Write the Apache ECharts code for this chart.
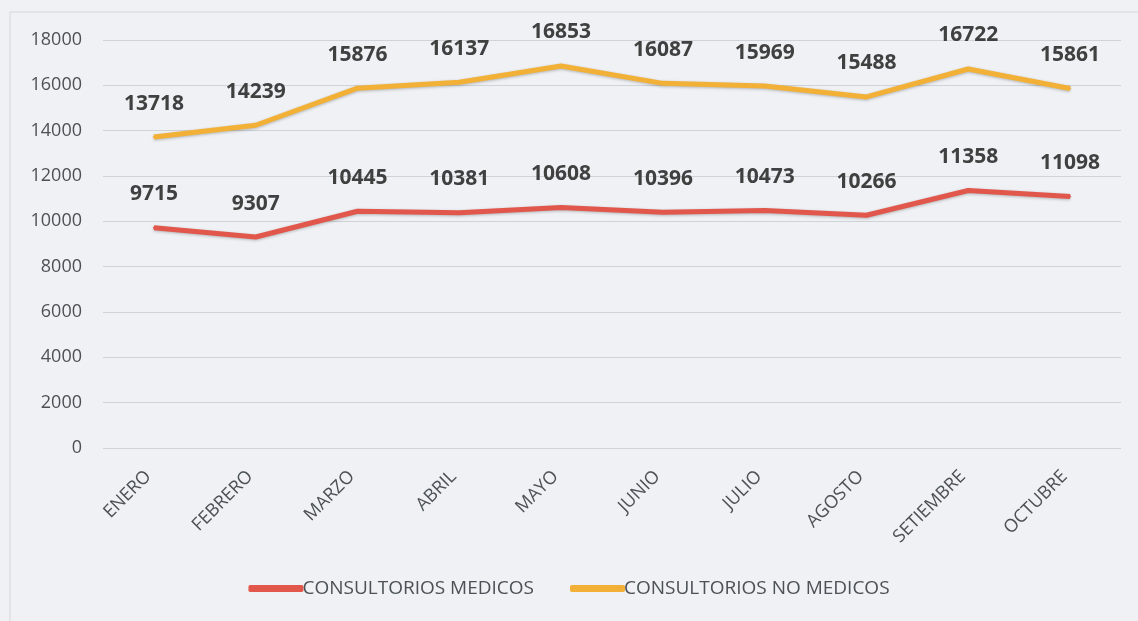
<!DOCTYPE html>
<html><head><meta charset="utf-8">
<script src="https://cdn.jsdelivr.net/npm/echarts@6/dist/echarts.min.js"></script>
<style>html,body{margin:0;padding:0;background:#fff}#c{width:1138px;height:621px}</style>
</head><body><div id="c"></div>
<script>
const categories = ['ENERO','FEBRERO','MARZO','ABRIL','MAYO','JUNIO','JULIO','AGOSTO','SETIEMBRE','OCTUBRE'];
const medicos = [9715, 9307, 10445, 10381, 10608, 10396, 10473, 10266, 11358, 11098];
const noMedicos = [13718, 14239, 15876, 16137, 16853, 16087, 15969, 15488, 16722, 15861];
const seriesNames = ['CONSULTORIOS MEDICOS', 'CONSULTORIOS NO MEDICOS'];
const chart = echarts.init(document.getElementById('c'));
const font = 'Open Sans';
function mk(name, data, color){
  return {
    name, type:'line', data, symbol:'circle', symbolSize:2, showSymbol:true, smooth:false,
    lineStyle:{width:5, color, shadowColor:'rgba(0,0,0,0.25)', shadowBlur:3, shadowOffsetY:1},
    itemStyle:{color},
    label:{show:true, position:'top', distance:22, fontFamily:font, fontWeight:'bold', fontSize:21, color:'#404040'}
  };
}
chart.setOption({
  backgroundColor:'#eff1f4',
  graphic:[{type:'rect', shape:{x:10,y:12,width:1140,height:620}, style:{fill:'none', stroke:'#d4d6da', lineWidth:1}}],
  grid:{left:103, right:17, top:40, bottom:173},
  xAxis:{type:'category', data:categories, boundaryGap:true,
    axisLine:{show:false}, axisTick:{show:false},
    axisLabel:{rotate:45, fontFamily:font, fontSize:18, color:'#4c5157', margin:20, padding:[0,8,0,0]}},
  yAxis:{type:'value', min:0, max:18000, interval:2000,
    axisLine:{show:false}, axisTick:{show:false},
    axisLabel:{fontFamily:font, fontSize:18, color:'#4c5157', margin:21, formatter:v=>String(v)},
    splitLine:{lineStyle:{color:'#cfd2d6', width:1}}},
  legend:{bottom:18, left:'center', itemGap:36, itemWidth:55, itemHeight:7, icon:'roundRect',
    textStyle:{fontFamily:font, fontSize:19, color:'#4c5157', padding:[0,0,0,-6]}},
  series:[mk(seriesNames[0], medicos, '#e2574c'), mk(seriesNames[1], noMedicos, '#f2b136')]
});
</script></body></html>
